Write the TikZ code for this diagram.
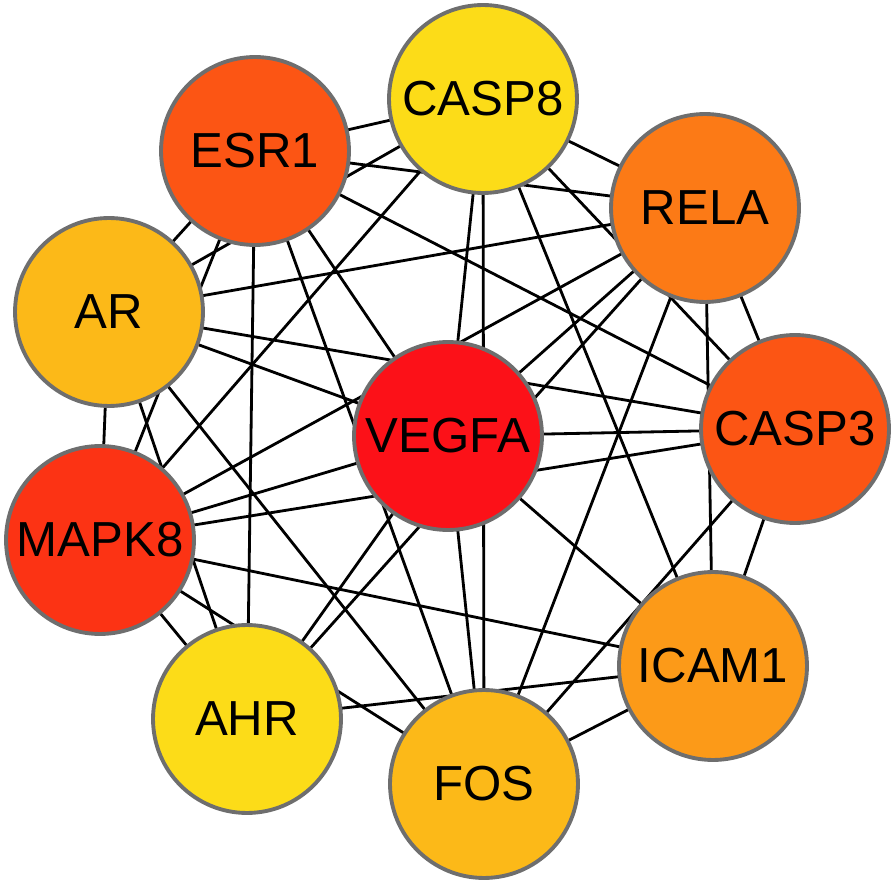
\documentclass[tikz,border=0pt]{standalone}
\usepackage{fontspec}
\setmainfont{Liberation Sans}
\usetikzlibrary{backgrounds}

\definecolor{deg9}{HTML}{FC1118}
\definecolor{deg9b}{HTML}{FC3314}
\definecolor{deg8}{HTML}{FC5514}
\definecolor{deg7}{HTML}{FC7A16}
\definecolor{deg6}{HTML}{FC9A18}
\definecolor{deg5}{HTML}{FCB918}
\definecolor{deg4}{HTML}{FCDC18}
\definecolor{rim}{HTML}{6E6E6E}

\begin{document}
\begin{tikzpicture}[
			x = 0.02 cm,
			y = -0.02 cm,
			gene/.style = {circle, draw = rim, line width = 2.2pt, minimum size = 3.76 cm, inner sep = 0pt, font = \fontsize{28}{30}\selectfont},
			link/.style = {line width = 1.6pt, black}
		]
		\useasboundingbox (0,0) rectangle (894,885);
		\node[gene, fill = deg4] (CASP8) at (483,99) {CASP8};
		\node[gene, fill = deg8] (ESR1) at (255,151) {ESR1};
		\node[gene, fill = deg7] (RELA) at (705,208) {RELA};
		\node[gene, fill = deg5] (AR) at (109,312) {AR};
		\node[gene, fill = deg9] (VEGFA) at (448,436) {VEGFA};
		\node[gene, fill = deg8] (CASP3) at (795,429) {CASP3};
		\node[gene, fill = deg9b] (MAPK8) at (100,540) {MAPK8};
		\node[gene, fill = deg6] (ICAM1) at (713,666) {ICAM1};
		\node[gene, fill = deg4] (AHR) at (247,719) {AHR};
		\node[gene, fill = deg5] (FOS) at (484,784) {FOS};
		\begin{scope}[on background layer]
			\foreach \a/\b in {ESR1/CASP8, ESR1/RELA, ESR1/AR, ESR1/MAPK8, ESR1/AHR, ESR1/FOS, ESR1/VEGFA, ESR1/CASP3,
					AR/CASP8, AR/RELA, AR/CASP3, AR/VEGFA, AR/MAPK8, AR/AHR, AR/FOS,
					MAPK8/CASP8, MAPK8/RELA, MAPK8/VEGFA, MAPK8/CASP3, MAPK8/ICAM1, MAPK8/FOS, MAPK8/AHR,
					AHR/VEGFA, AHR/RELA, AHR/ICAM1,
					CASP8/FOS, CASP8/VEGFA, CASP8/RELA, CASP8/CASP3, CASP8/ICAM1,
					VEGFA/FOS, VEGFA/RELA, VEGFA/CASP3, VEGFA/ICAM1,
					RELA/FOS, RELA/CASP3, RELA/ICAM1,
					CASP3/FOS, CASP3/ICAM1, FOS/ICAM1}
				\draw[link] (\a.center) -- (\b.center);
		\end{scope}
	\end{tikzpicture}
\end{document}
